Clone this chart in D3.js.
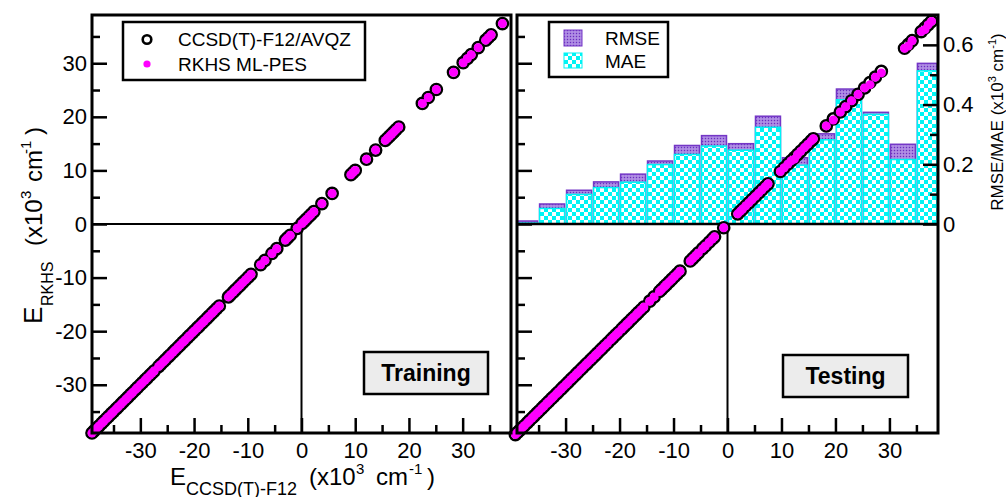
<!DOCTYPE html>
<html>
<head>
<meta charset="utf-8">
<script src="https://cdn.jsdelivr.net/npm/d3@7"></script>
<style>
  body { margin: 0; background: #fff; }
  svg { display: block; font-family: "Liberation Sans", Arial, sans-serif; }
</style>
</head>
<body>
<div id="chart"></div>
<script>
// ---- data (x10^3 cm^-1) ----
var trainCCSD = [-39.0, -38.6, -38.1, -37.7, -37.2, -36.8, -36.3, -35.9, -35.4, -35.0,
  -34.5, -34.1, -33.6, -33.2, -32.7, -32.3, -31.8, -31.4, -30.9, -30.5, -30.0, -29.6,
  -29.1, -28.7, -28.2, -27.8, -27.4, -26.6, -26.2, -25.7, -25.3, -24.8, -24.4, -23.9,
  -23.5, -23.0, -22.6, -22.1, -21.7, -21.2, -20.8, -20.3, -19.9, -19.4, -19.0, -18.5,
  -18.1, -17.6, -17.2, -16.7, -16.3, -15.8, -15.3, -13.6, -13.2, -12.7, -12.3, -11.8,
  -11.4, -10.9, -10.4, -9.9, -9.4, -7.6, -6.8, -5.5, -4.6, -3.0, -2.6, -2.1, -0.8, 0.1,
  0.5, 0.9, 1.4, 1.8, 2.3, 3.8, 5.7, 9.2, 9.6, 10.0, 12.1, 13.8, 15.6, 16.0, 16.4, 16.8,
  17.2, 17.6, 18.1, 22.5, 23.6, 25.1, 28.3, 30.1, 30.9, 31.6, 32.9, 34.3, 34.8, 35.3, 37.4];
var trainRKHS = [-39.0, -38.6, -38.1, -37.7, -37.2, -36.8, -36.3, -35.9, -35.4, -35.0,
  -34.5, -34.1, -33.6, -33.2, -32.7, -32.3, -31.8, -31.4, -30.9, -30.5, -30.0, -29.6,
  -29.1, -28.7, -28.2, -27.8, -27.4, -26.6, -26.2, -25.7, -25.3, -24.8, -24.4, -23.9,
  -23.5, -23.0, -22.6, -22.1, -21.7, -21.2, -20.8, -20.3, -19.9, -19.4, -19.0, -18.5,
  -18.1, -17.6, -17.2, -16.7, -16.3, -15.8, -15.3, -13.6, -13.2, -12.7, -12.3, -11.8,
  -11.4, -10.9, -10.4, -9.9, -9.4, -7.6, -6.8, -5.5, -4.6, -3.0, -2.6, -2.1, -0.8, 0.1,
  0.5, 0.9, 1.4, 1.8, 2.3, 3.8, 5.7, 9.2, 9.6, 10.0, 12.1, 13.8, 15.6, 16.0, 16.4, 16.8,
  17.2, 17.6, 18.1, 22.5, 23.6, 25.1, 28.3, 30.1, 30.9, 31.6, 32.9, 34.3, 34.8, 35.3, 37.4];

var testCCSD = [-39.3, -38.9, -38.5, -38.0, -37.6, -37.1, -36.7, -36.2, -35.8, -35.3,
  -34.9, -34.4, -34.0, -33.5, -33.1, -32.6, -32.2, -31.7, -31.3, -30.8, -30.4, -29.9,
  -29.5, -29.0, -28.6, -28.1, -27.7, -27.2, -26.8, -26.3, -25.9, -25.4, -25.0, -24.5,
  -24.1, -23.6, -23.2, -22.7, -22.2, -21.6, -21.2, -20.7, -20.2, -19.6, -19.2, -18.7,
  -18.3, -17.8, -17.4, -16.9, -16.5, -16.0, -15.5, -14.4, -13.6, -12.6, -12.2, -11.7,
  -11.3, -10.8, -10.3, -9.8, -9.3, -8.8, -6.9, -6.4, -5.9, -5.4, -4.6, -4.1, -3.4, -2.8,
  -2.4, -0.7, 1.9, 2.4, 2.8, 3.4, 4.0, 4.6, 5.2, 5.8, 6.4, 7.0, 7.5, 9.8, 10.5, 11.2,
  11.8, 12.4, 13.0, 13.6, 14.3, 14.9, 15.5, 15.9, 18.3, 19.6, 20.9, 21.9, 23.0, 24.2,
  25.4, 26.4, 27.4, 28.5, 32.8, 33.5, 34.2, 35.9, 36.6, 37.2, 37.8];
var testRKHS = [-39.3, -38.9, -38.5, -38.0, -37.6, -37.1, -36.7, -36.2, -35.8, -35.3,
  -34.9, -34.4, -34.0, -33.5, -33.1, -32.6, -32.2, -31.7, -31.3, -30.8, -30.4, -29.9,
  -29.5, -29.0, -28.6, -28.1, -27.7, -27.2, -26.8, -26.3, -25.9, -25.4, -25.0, -24.5,
  -24.1, -23.6, -23.2, -22.7, -22.2, -21.6, -21.2, -20.7, -20.2, -19.6, -19.2, -18.7,
  -18.3, -17.8, -17.4, -16.9, -16.5, -16.0, -15.5, -14.4, -13.6, -12.6, -12.2, -11.7,
  -11.3, -10.8, -10.3, -9.8, -9.3, -8.8, -6.9, -6.4, -5.9, -5.4, -4.6, -4.1, -3.4, -2.8,
  -2.4, -0.7, 1.9, 2.4, 2.8, 3.4, 4.0, 4.6, 5.2, 5.8, 6.4, 7.0, 7.5, 9.8, 10.5, 11.2,
  11.8, 12.1, 13.0, 13.6, 14.3, 14.9, 15.5, 15.9, 18.3, 19.4, 20.9, 21.9, 23.0, 24.2,
  25.4, 26.0, 27.4, 28.2, 32.8, 33.2, 34.2, 35.9, 36.3, 37.2, 37.8];

// error histogram, bins of 5 (x10^3 cm^-1)
var binStart = [-40, -35, -30, -25, -20, -15, -10, -5, 0, 5, 10, 15, 20, 25, 30, 35];
var binWidth = 5;
var rmseVals = [0.010, 0.067, 0.113, 0.141, 0.167, 0.211, 0.263, 0.296, 0.269, 0.361,
  0.222, 0.302, 0.452, 0.374, 0.267, 0.538];
var maeVals = [0.003, 0.052, 0.099, 0.122, 0.140, 0.199, 0.233, 0.261, 0.247, 0.324,
  0.197, 0.282, 0.416, 0.367, 0.216, 0.513];

var majorTicks = [-30, -20, -10, 0, 10, 20, 30];
var minorTicks = [-35, -25, -15, -5, 5, 15, 25, 35];
var errMajor = [0, 0.2, 0.4, 0.6];
var errMinor = [0.1, 0.3, 0.5];

// ---- layout ----
var FONT = '"Liberation Sans", Arial, sans-serif';
var svg = d3.select('#chart').append('svg').attr('width', 1006).attr('height', 497);

var y = d3.scaleLinear().domain([-39, 39]).range([433, 15]);
var xL = d3.scaleLinear().domain([-39, 39]).range([92, 511]);
var xR = d3.scaleLinear().domain([-39, 39]).range([517, 938]);
var yE = d3.scaleLinear().domain([0, 0.7]).range([y(0), 15]);

var defs = svg.append('defs');
var chk = defs.append('pattern').attr('id', 'chk').attr('patternUnits', 'userSpaceOnUse')
  .attr('width', 8).attr('height', 8);
chk.append('rect').attr('width', 8).attr('height', 8).attr('fill', '#fff');
chk.append('rect').attr('width', 4).attr('height', 4).attr('fill', '#00f4f4');
chk.append('rect').attr('x', 4).attr('y', 4).attr('width', 4).attr('height', 4).attr('fill', '#00f4f4');

var dots = defs.append('pattern').attr('id', 'dots').attr('patternUnits', 'userSpaceOnUse')
  .attr('width', 3).attr('height', 3);
dots.append('rect').attr('width', 3).attr('height', 3).attr('fill', '#a47ddf');
dots.append('rect').attr('width', 1).attr('height', 1).attr('fill', '#6a30bd');
dots.append('rect').attr('x', 1.5).attr('y', 1.5).attr('width', 1).attr('height', 1).attr('fill', '#d2bff0');

// ---- error bars (right panel, behind points) ----
var bars = svg.append('g');
binStart.forEach(function (b, i) {
  var xa = xR(Math.max(b, -39)) + 1;
  var xb = xR(Math.min(b + binWidth, 39)) - 1;
  bars.append('rect')
    .attr('x', xa).attr('width', xb - xa)
    .attr('y', yE(rmseVals[i])).attr('height', yE(0) - yE(rmseVals[i]))
    .attr('fill', 'url(#dots)').attr('stroke', '#7436c6').attr('stroke-width', 1.5);
  bars.append('rect')
    .attr('x', xa).attr('width', xb - xa)
    .attr('y', yE(maeVals[i])).attr('height', yE(0) - yE(maeVals[i]))
    .attr('fill', 'url(#chk)').attr('stroke', '#00f4f4').attr('stroke-width', 1.5);
});

// ---- zero lines ----
svg.append('line').attr('x1', xL(-39)).attr('x2', xL(0)).attr('y1', y(0)).attr('y2', y(0))
  .attr('stroke', '#000').attr('stroke-width', 2);
svg.append('line').attr('x1', xL(0)).attr('x2', xL(0)).attr('y1', y(0)).attr('y2', y(-39))
  .attr('stroke', '#000').attr('stroke-width', 2);
svg.append('line').attr('x1', xR(-39)).attr('x2', xR(39)).attr('y1', y(0)).attr('y2', y(0))
  .attr('stroke', '#000').attr('stroke-width', 2.5);
svg.append('line').attr('x1', xR(0)).attr('x2', xR(0)).attr('y1', y(0)).attr('y2', y(-39))
  .attr('stroke', '#000').attr('stroke-width', 2);

// ---- scatter ----
function drawPoints(x, ccsd, rkhs) {
  var g = svg.append('g');
  g.selectAll('circle.ref').data(ccsd).enter().append('circle')
    .attr('class', 'ref')
    .attr('cx', function (d) { return x(d); })
    .attr('cy', function (d) { return y(d); })
    .attr('r', 5.6).attr('fill', '#fff').attr('stroke', '#000').attr('stroke-width', 2.5);
  g.selectAll('circle.fit').data(ccsd).enter().append('circle')
    .attr('class', 'fit')
    .attr('cx', function (d) { return x(d); })
    .attr('cy', function (d, i) { return y(rkhs[i]); })
    .attr('r', 4.5).attr('fill', '#ff00ff');
}
drawPoints(xL, trainCCSD, trainRKHS);
drawPoints(xR, testCCSD, testRKHS);

// ---- axes ----
function styleAxis(g, size) {
  g.select('.domain').remove();
  g.selectAll('line').attr('stroke', '#000').attr('stroke-width', 2.5);
  g.selectAll('text').attr('font-size', size).attr('font-family', FONT).attr('fill', '#000');
}
function fmt(d) { return String(d); }

[xL, xR].forEach(function (x) {
  svg.append('g').attr('transform', 'translate(0,433)')
    .call(d3.axisBottom(x).tickValues(majorTicks).tickSize(-15).tickPadding(9).tickFormat(fmt))
    .call(styleAxis, 22);
  svg.append('g').attr('transform', 'translate(0,433)')
    .call(d3.axisBottom(x).tickValues(minorTicks).tickSize(-8).tickFormat(''))
    .call(styleAxis, 22);
});
svg.append('g').attr('transform', 'translate(92,0)')
  .call(d3.axisLeft(y).tickValues(majorTicks).tickSize(-15).tickPadding(5).tickFormat(fmt))
  .call(styleAxis, 22);
svg.append('g').attr('transform', 'translate(92,0)')
  .call(d3.axisLeft(y).tickValues(minorTicks).tickSize(-8).tickFormat(''))
  .call(styleAxis, 22);
svg.append('g').attr('transform', 'translate(517,0)')
  .call(d3.axisLeft(y).tickValues(majorTicks).tickSize(-15).tickFormat(''))
  .call(styleAxis, 22);
svg.append('g').attr('transform', 'translate(517,0)')
  .call(d3.axisLeft(y).tickValues(minorTicks).tickSize(-8).tickFormat(''))
  .call(styleAxis, 22);
svg.append('g').attr('transform', 'translate(938,0)')
  .call(d3.axisRight(yE).tickValues(errMajor).tickSize(-15).tickPadding(5)
    .tickFormat(function (d) { return d === 0 ? '0' : d.toFixed(1); }))
  .call(styleAxis, 22);
svg.append('g').attr('transform', 'translate(938,0)')
  .call(d3.axisRight(yE).tickValues(errMinor).tickSize(-8).tickFormat(''))
  .call(styleAxis, 22);

// ---- frames ----
[[92, 511], [517, 938]].forEach(function (p) {
  svg.append('rect').attr('x', p[0]).attr('y', 15).attr('width', p[1] - p[0]).attr('height', 418)
    .attr('fill', 'none').attr('stroke', '#000').attr('stroke-width', 3);
});

// ---- legends ----
var lg = svg.append('g');
lg.append('rect').attr('x', 123).attr('y', 22).attr('width', 242).attr('height', 58)
  .attr('fill', '#fff').attr('stroke', '#000').attr('stroke-width', 2.5);
lg.append('circle').attr('cx', 147).attr('cy', 39.5).attr('r', 4.3)
  .attr('fill', '#fff').attr('stroke', '#000').attr('stroke-width', 2.6);
lg.append('circle').attr('cx', 147).attr('cy', 64).attr('r', 3.6).attr('fill', '#ff00ff');
lg.append('text').attr('x', 178).attr('y', 46).attr('font-size', 19).text('CCSD(T)-F12/AVQZ');
lg.append('text').attr('x', 178).attr('y', 71).attr('font-size', 19).text('RKHS ML-PES');

var rg = svg.append('g');
rg.append('rect').attr('x', 549).attr('y', 22).attr('width', 119).attr('height', 55)
  .attr('fill', '#fff').attr('stroke', '#000').attr('stroke-width', 2.5);
rg.append('rect').attr('x', 564).attr('y', 30).attr('width', 18).attr('height', 16)
  .attr('fill', 'url(#dots)').attr('stroke', '#7436c6').attr('stroke-width', 1);
rg.append('rect').attr('x', 564).attr('y', 53).attr('width', 18).attr('height', 15)
  .attr('fill', 'url(#chk)').attr('stroke', '#00f4f4').attr('stroke-width', 1);
rg.append('text').attr('x', 605).attr('y', 45).attr('font-size', 19).text('RMSE');
rg.append('text').attr('x', 605).attr('y', 68).attr('font-size', 19).text('MAE');

// ---- panel tags ----
function tag(x, yy, w, h, label) {
  svg.append('rect').attr('x', x).attr('y', yy).attr('width', w).attr('height', h)
    .attr('fill', '#ececec').attr('stroke', '#000').attr('stroke-width', 2.5);
  svg.append('text').attr('x', x + w / 2).attr('y', yy + 29).attr('text-anchor', 'middle')
    .attr('font-size', 23).attr('font-weight', 'bold').text(label);
}
tag(364, 352, 124, 42, 'Training');
tag(783, 355, 125, 42, 'Testing');

// ---- axis titles (pieces placed along the reading direction) ----
// each piece: [text, font size, offset along text, shift across baseline]
function unitLabel(t, pieces) {
  pieces.forEach(function (p) {
    t.append('tspan').attr('x', p[2]).attr('y', p[3]).attr('font-size', p[1]).text(p[0]);
  });
}
var xt = svg.append('text').attr('transform', 'translate(170,485)').attr('fill', '#000');
unitLabel(xt, [
  ['E', 24, 0, 0], ['CCSD(T)-F12', 18, 16, 10], ['(x10', 24, 139, 0],
  ['3', 15, 186, -11], ['cm', 24, 206, 0], ['-1', 15, 239, -11], [')', 24, 257, 0]
]);
var yt = svg.append('text').attr('transform', 'translate(42,324) rotate(-90)').attr('fill', '#000');
unitLabel(yt, [
  ['E', 26, 0, 0], ['RKHS', 16, 18, 11], ['(x10', 24, 78, 0],
  ['3', 15, 125, -11], ['cm', 24, 142, 0], ['-1', 15, 170, -11], [')', 24, 189, 0]
]);

var rt = svg.append('text').attr('transform', 'translate(1003,122) rotate(-90)')
  .attr('text-anchor', 'middle').attr('font-size', 17);
rt.append('tspan').text('RMSE/MAE (x10');
rt.append('tspan').attr('font-size', 11).attr('dy', -7).text('3');
rt.append('tspan').attr('dy', 7).text(' cm');
rt.append('tspan').attr('font-size', 11).attr('dy', -7).text('-1');
rt.append('tspan').attr('dy', 7).text(')');
</script>
</body>
</html>
